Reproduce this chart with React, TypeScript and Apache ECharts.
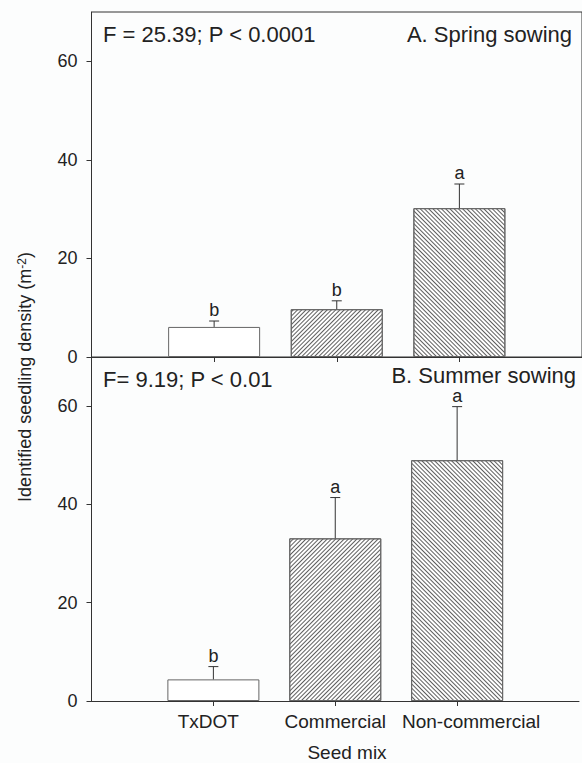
import React, { useEffect, useRef } from "react";
import * as echarts from "echarts";

const categories = ["", "TxDOT", "Commercial", "Non-commercial", ""];
const springMeans = [6.1, 9.7, 30.2];
const springSE = [1.2, 1.7, 4.9];
const springLetters = ["b", "b", "a"];
const summerMeans = [4.4, 33.1, 49.0];
const summerSE = [2.6, 8.3, 10.9];
const summerLetters = ["b", "a", "a"];
const yTicks = [0, 20, 40, 60];
const yMax = 70;

const FONT = '"Liberation Sans", Arial, sans-serif';
const AXIS_COLOR = "#333";
const TEXT_COLOR = "#222";

const hatchForward = {
  symbol: "rect",
  symbolSize: 1,
  color: "#5e5e5e",
  backgroundColor: "#ffffff",
  dashArrayX: [1, 0],
  dashArrayY: [1, 1.6],
  rotation: -Math.PI / 4,
};
const hatchBack = { ...hatchForward, rotation: Math.PI / 4 };
const decals: any[] = [null, hatchForward, hatchBack];

// per-label horizontal nudges (padding) to mirror the reference placement
const labelPadding: Record<string, number[]> = {
  TxDOT: [0, 10, 0, 0],
  "Non-commercial": [0, 0, 0, 28],
};

function barData(means: number[]) {
  const out: any[] = [null];
  means.forEach((m, i) => {
    const item: any = {
      value: m,
      itemStyle: { color: "#fff", borderColor: "#666", borderWidth: 1 },
    };
    if (decals[i]) item.itemStyle.decal = decals[i];
    out.push(item);
  });
  out.push(null);
  return out;
}

function errData(means: number[], se: number[]) {
  return means.map((m, i) => [i + 1, m, se[i]]);
}

function errRender(letters: string[]) {
  return (params: any, api: any) => {
    const idx = api.value(0);
    const m = api.value(1);
    const s = api.value(2);
    const base = api.coord([idx, m]);
    const top = api.coord([idx, m + s]);
    const cap = 5;
    return {
      type: "group",
      children: [
        {
          type: "line",
          shape: { x1: base[0], y1: base[1], x2: top[0], y2: top[1] },
          style: { stroke: AXIS_COLOR, lineWidth: 1 },
        },
        {
          type: "line",
          shape: { x1: top[0] - cap, y1: top[1], x2: top[0] + cap, y2: top[1] },
          style: { stroke: AXIS_COLOR, lineWidth: 1 },
        },
        {
          type: "text",
          x: top[0],
          y: top[1] - 2,
          style: {
            text: letters[params.dataIndex],
            fill: TEXT_COLOR,
            fontSize: 18,
            fontFamily: FONT,
            align: "center",
            verticalAlign: "bottom",
          },
        },
      ],
    };
  };
}

function yAxis(gridIndex: number) {
  return {
    type: "value",
    gridIndex,
    min: 0,
    max: yMax,
    interval: 20,
    splitLine: { show: false },
    axisLine: { show: true, lineStyle: { color: AXIS_COLOR, width: 1 } },
    axisTick: { show: true, length: 5, inside: false, customValues: yTicks, lineStyle: { color: AXIS_COLOR } },
    axisLabel: {
      customValues: yTicks,
      color: TEXT_COLOR,
      fontSize: 18,
      fontFamily: FONT,
      margin: 14,
    },
  };
}

function xAxis(gridIndex: number, showLabels: boolean) {
  return {
    type: "category",
    gridIndex,
    data: categories.map((c) =>
      labelPadding[c] ? { value: c, textStyle: { padding: labelPadding[c] } } : c
    ),
    boundaryGap: false,
    axisLine: { show: true, lineStyle: { color: AXIS_COLOR, width: 1 } },
    axisTick: {
      show: true,
      length: 5,
      inside: false,
      interval: (i: number, v: string) => v !== "",
      lineStyle: { color: AXIS_COLOR },
    },
    axisLabel: {
      show: showLabels,
      interval: 0,
      color: TEXT_COLOR,
      fontSize: 19,
      fontFamily: FONT,
      margin: 11,
    },
  };
}

export default function App() {
  const ref = useRef<HTMLDivElement>(null);
  useEffect(() => {
    if (!ref.current) return;
    const chart = echarts.init(ref.current, null, { renderer: "svg" });
    const textStyle = (extra: any) => ({
      fill: TEXT_COLOR,
      fontFamily: FONT,
      ...extra,
    });
    chart.setOption({
      animation: false,
      backgroundColor: "#fcfdfd",
      grid: [
        { left: 91.5, top: 12, width: 492, height: 345, show: true, borderColor: AXIS_COLOR, borderWidth: 1, backgroundColor: "transparent" },
        { left: 91.5, top: 357, width: 492, height: 344 },
      ],
      xAxis: [xAxis(0, false), xAxis(1, true)],
      yAxis: [yAxis(0), yAxis(1)],
      series: [
        {
          type: "bar",
          xAxisIndex: 0,
          yAxisIndex: 0,
          barWidth: 92,
          data: barData(springMeans),
        },
        {
          type: "bar",
          xAxisIndex: 1,
          yAxisIndex: 1,
          barWidth: 92,
          data: barData(summerMeans),
        },
        {
          type: "custom",
          xAxisIndex: 0,
          yAxisIndex: 0,
          renderItem: errRender(springLetters),
          data: errData(springMeans, springSE),
          z: 5,
        },
        {
          type: "custom",
          xAxisIndex: 1,
          yAxisIndex: 1,
          renderItem: errRender(summerLetters),
          data: errData(summerMeans, summerSE),
          z: 5,
        },
      ],
      graphic: [
        {
          type: "text",
          x: 103,
          y: 34,
          style: textStyle({ text: "F = 25.39; P < 0.0001", fontSize: 22, align: "left", verticalAlign: "middle" }),
        },
        {
          type: "text",
          x: 572,
          y: 34,
          style: textStyle({ text: "A. Spring sowing", fontSize: 22, align: "right", verticalAlign: "middle" }),
        },
        {
          type: "text",
          x: 103,
          y: 379,
          style: textStyle({ text: "F= 9.19; P < 0.01", fontSize: 22, align: "left", verticalAlign: "middle" }),
        },
        {
          type: "text",
          x: 576,
          y: 375,
          style: textStyle({ text: "B. Summer sowing", fontSize: 22, align: "right", verticalAlign: "middle" }),
        },
        {
          type: "text",
          x: 347,
          y: 752,
          style: textStyle({ text: "Seed mix", fontSize: 19, align: "center", verticalAlign: "middle" }),
        },
        {
          type: "text",
          x: 25,
          y: 377,
          rotation: Math.PI / 2,
          style: textStyle({
            text: "Identified seedling density (m{sup|-2})",
            fontSize: 18,
            align: "center",
            verticalAlign: "middle",
            rich: {
              sup: { fontSize: 12, verticalAlign: "top", fill: TEXT_COLOR, fontFamily: FONT },
            },
          }),
        },
      ],
    });
    return () => chart.dispose();
  }, []);
  return (
    <div
      ref={ref}
      style={{ position: "fixed", left: 0, top: 0, width: 582, height: 763 }}
    />
  );
}
